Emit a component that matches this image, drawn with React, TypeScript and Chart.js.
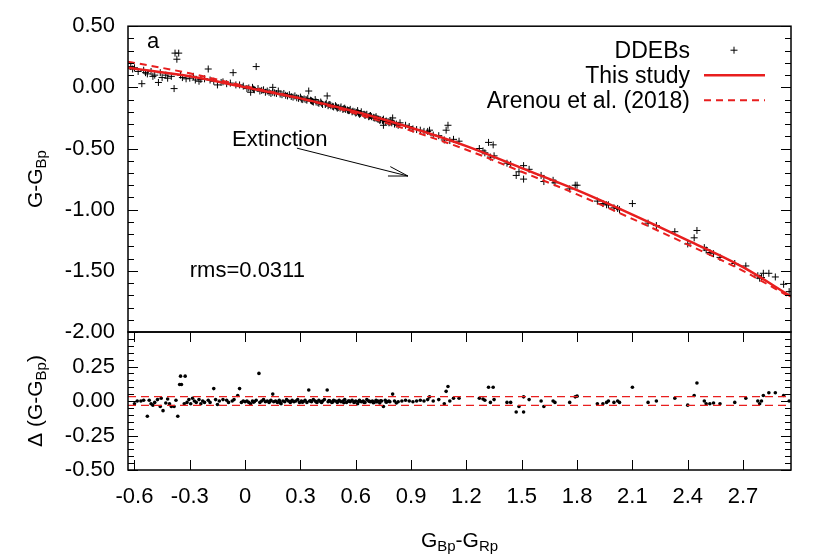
import React, { useEffect, useRef } from 'react';
import { Chart, registerables } from 'chart.js';

Chart.register(...registerables);

// ---------- data ----------
const X_MIN = -0.635;
const X_MAX = 2.96;
const xTickValues = [-0.6, -0.3, 0, 0.3, 0.6, 0.9, 1.2, 1.5, 1.8, 2.1, 2.4, 2.7];
const topYTicks = [0.5, 0, -0.5, -1.0, -1.5, -2.0];
const bottomYTicks = [0.25, 0, -0.25, -0.5];

// fitted relations
const fitX = [-0.635, -0.3, 0, 0.3, 0.6, 0.9, 1.2, 1.5, 1.8, 2.1, 2.4, 2.7, 2.96];
const thisStudyY = [0.16, 0.09, 0.0, -0.09, -0.2, -0.33, -0.48, -0.66, -0.84, -1.04, -1.25, -1.47, -1.71];
const arenouY = [0.21, 0.115, 0.01, -0.09, -0.215, -0.355, -0.51, -0.69, -0.875, -1.075, -1.285, -1.5, -1.72];

const rmsValue = 0.0311;

// DDEBs: G_Bp - G_Rp  vs  G - G_Bp
const ddebX = [
  -0.62, -0.61, -0.6, -0.58, -0.56, -0.55, -0.54, -0.53, -0.51, -0.5, -0.49, -0.47, -0.46, -0.45, -0.43, -0.42,
  -0.4, -0.385, -0.38, -0.37, -0.36, -0.35, -0.34, -0.32, -0.3, -0.28, -0.27, -0.25, -0.24, -0.22, -0.2, -0.19,
  -0.17, -0.15, -0.13, -0.12, -0.1, -0.08, -0.065, -0.05, -0.03, -0.01,
  0.01, 0.03, 0.04, 0.05, 0.06, 0.07, 0.08, 0.1, 0.11, 0.12, 0.14, 0.15, 0.15, 0.17, 0.18, 0.2, 0.21, 0.23, 0.24,
  0.26, 0.27, 0.29, 0.3, 0.31, 0.33, 0.34, 0.345, 0.36, 0.37, 0.38, 0.4, 0.41, 0.42, 0.44, 0.445, 0.45, 0.46, 0.48,
  0.49, 0.5, 0.52, 0.53, 0.54, 0.56, 0.57, 0.58, 0.6, 0.61, 0.62, 0.63, 0.65, 0.66, 0.67, 0.68, 0.7, 0.71, 0.72,
  0.73, 0.75, 0.75, 0.76, 0.78, 0.79, 0.8, 0.81, 0.83, 0.84,
  0.02, 0.045, 0.09, 0.13, 0.16, 0.19, 0.22, 0.25, 0.28,
  0.305, 0.32, 0.335, 0.355, 0.365, 0.385, 0.395, 0.415, 0.435, 0.455, 0.465, 0.475, 0.495, 0.505, 0.515, 0.535,
  0.545, 0.555, 0.565, 0.585, 0.595, 0.605, 0.615, 0.625, 0.645, 0.655, 0.675, 0.685, 0.695, 0.705, 0.715, 0.725,
  0.735, 0.745, 0.765, 0.775, 0.785, 0.795, 0.82,
  0.87, 0.89, 0.91, 0.93, 0.95, 0.97, 0.99, 1.0, 1.02, 1.05, 1.08, 1.09, 1.1, 1.11, 1.13, 1.16, 1.27, 1.29, 1.3,
  1.32, 1.345, 1.33, 1.35, 1.42, 1.44, 1.47, 1.485, 1.51, 1.51, 1.54, 1.605, 1.62, 1.67, 1.68, 1.76, 1.79, 1.8,
  1.91, 1.94, 1.96, 1.97, 2.0, 2.02, 2.03, 2.1, 2.185, 2.23, 2.33, 2.4, 2.435, 2.45, 2.49, 2.5, 2.52, 2.54, 2.575,
  2.655, 2.715, 2.78, 2.79, 2.8, 2.81, 2.84, 2.875, 2.92, 2.95,
];
const ddebY = [
  0.17, 0.15, 0.16, 0.13, 0.03, 0.14, 0.12, 0.11, 0.13, 0.09, 0.1, 0.04, 0.12, 0.08, 0.1, 0.075,
  0.09, -0.01, 0.28, 0.23, 0.28, 0.1, 0.08, 0.07, 0.075, 0.09, 0.06, 0.05, 0.065, 0.07, 0.15, 0.06,
  0.05, 0.02, 0.04, 0.045, 0.03, 0.035, 0.12, 0.02, 0.02, 0.01,
  -0.01, -0.04, 0.0, -0.02, 0.17, -0.01, -0.03, -0.02, -0.04, -0.03, -0.05, -0.04, 0.0, -0.05, -0.03, -0.06, -0.05, -0.07, -0.06,
  -0.08, -0.07, -0.09, -0.08, -0.1, -0.1, -0.09, -0.03, -0.11, -0.12, -0.1, -0.13, -0.12, -0.14, -0.13, -0.07, -0.15, -0.14, -0.16,
  -0.15, -0.17, -0.16, -0.18, -0.17, -0.19, -0.18, -0.2, -0.21, -0.19, -0.22, -0.2, -0.23, -0.22, -0.24, -0.23, -0.25, -0.24, -0.26,
  -0.27, -0.26, -0.31, -0.28, -0.29, -0.27, -0.25, -0.3, -0.31, -0.29,
  -0.005, -0.015, -0.025, -0.04, -0.045, -0.055, -0.065, -0.075, -0.085,
  -0.095, -0.095, -0.105, -0.105, -0.115, -0.12, -0.125, -0.13, -0.14, -0.14, -0.15, -0.155, -0.16, -0.165, -0.17, -0.175,
  -0.18, -0.185, -0.19, -0.195, -0.2, -0.205, -0.21, -0.215, -0.22, -0.225, -0.235, -0.24, -0.245, -0.25, -0.255, -0.26,
  -0.265, -0.27, -0.275, -0.28, -0.285, -0.29, -0.3,
  -0.31, -0.32, -0.34, -0.345, -0.35, -0.36, -0.36, -0.35, -0.39, -0.395, -0.43, -0.35, -0.31, -0.435, -0.425, -0.44, -0.5, -0.52, -0.535,
  -0.45, -0.47, -0.57, -0.56, -0.62, -0.63, -0.72, -0.69, -0.75, -0.64, -0.67, -0.72, -0.77, -0.76, -0.78, -0.83, -0.8, -0.8,
  -0.93, -0.95, -0.96, -0.96, -0.985, -0.99, -1.0, -0.95, -1.11, -1.13, -1.18, -1.28, -1.23, -1.17, -1.31, -1.33, -1.35, -1.36, -1.39,
  -1.44, -1.46, -1.54, -1.56, -1.555, -1.52, -1.52, -1.55, -1.61, -1.67,
];

// residuals: G_Bp - G_Rp  vs  Δ(G - G_Bp)
const resX = [
  -0.6, -0.585, -0.565, -0.55, -0.53, -0.52, -0.51, -0.5, -0.49, -0.475, -0.46, -0.455, -0.445, -0.43, -0.42, -0.41,
  -0.4, -0.385, -0.375, -0.365, -0.355, -0.345, -0.35, -0.325, -0.33, -0.315, -0.305, -0.295, -0.285, -0.275, -0.265,
  -0.25, -0.24, -0.23, -0.22, -0.2, -0.19, -0.17, -0.16, -0.15, -0.14, -0.12, -0.1, -0.09, -0.07, -0.06, -0.04, -0.03,
  -0.02, -0.01,
  0.0, 0.01, 0.02, 0.03, 0.04, 0.05, 0.06, 0.075, 0.08, 0.09, 0.1, 0.11, 0.12, 0.13, 0.14, 0.15, 0.155, 0.165, 0.175,
  0.185, 0.195, 0.205, 0.215, 0.225, 0.235, 0.245, 0.255, 0.265, 0.275, 0.285, 0.295, 0.305, 0.315, 0.325, 0.335,
  0.345, 0.35, 0.36, 0.37, 0.38, 0.39, 0.4, 0.41, 0.42, 0.43, 0.445, 0.45, 0.46, 0.47, 0.48, 0.49, 0.5, 0.51, 0.52,
  0.53, 0.54, 0.55, 0.56, 0.57, 0.58, 0.59, 0.6, 0.61, 0.62, 0.63, 0.64, 0.65, 0.66, 0.67, 0.68, 0.69, 0.7, 0.71,
  0.72, 0.73, 0.74, 0.75, 0.76, 0.77, 0.78, 0.8, 0.81, 0.83, 0.85,
  0.045, 0.135, 0.19, 0.25, 0.31, 0.355, 0.385, 0.415, 0.455, 0.475, 0.505, 0.535, 0.565, 0.595, 0.615, 0.645,
  0.675, 0.695, 0.715, 0.735, 0.765, 0.785, 0.82,
  0.87, 0.89, 0.91, 0.93, 0.95, 0.97, 0.99, 1.0, 1.02, 1.05, 1.08, 1.09, 1.1, 1.11, 1.13, 1.16, 1.27, 1.29, 1.3,
  1.32, 1.345, 1.33, 1.35, 1.42, 1.44, 1.47, 1.485, 1.51, 1.51, 1.54, 1.605, 1.62, 1.67, 1.68, 1.76, 1.79, 1.8,
  1.91, 1.94, 1.96, 1.97, 2.0, 2.02, 2.03, 2.1, 2.185, 2.23, 2.33, 2.4, 2.435, 2.45, 2.49, 2.5, 2.52, 2.54, 2.575,
  2.655, 2.715, 2.78, 2.79, 2.8, 2.81, 2.84, 2.875, 2.92, 2.95,
];
const resY = [
  -0.02, 0.0, 0.0, 0.005, -0.11, 0.005, -0.02, -0.03, -0.01, 0.01, -0.04, 0.02, -0.07, -0.015, 0.015, -0.02,
  -0.04, -0.04, 0.005, -0.11, 0.12, 0.12, 0.18, 0.18, -0.02, -0.01, 0.01, -0.02, 0.02, 0.0, -0.01,
  0.01, -0.02, 0.0, -0.01, 0.005, -0.01, 0.09, 0.01, -0.025, 0.0, 0.01, 0.005, -0.01, 0.0, 0.01, 0.04, 0.09,
  -0.01, 0.0,
  -0.005, 0.0, -0.01, -0.02, 0.0, -0.005, 0.005, 0.2, -0.01, 0.0, 0.01, -0.005, 0.0, -0.01, 0.005, 0.05, -0.005, 0.0, -0.01,
  0.005, -0.02, 0.0, -0.005, 0.01, 0.0, -0.01, 0.005, -0.005, 0.0, 0.01, -0.01, 0.0, -0.005, 0.005, -0.01,
  0.08, 0.0, -0.005, 0.01, 0.0, -0.01, 0.005, -0.005, 0.0, 0.01, 0.08, -0.005, 0.0, -0.01, 0.005, 0.0, -0.01, 0.005, -0.005,
  0.0, 0.01, -0.01, 0.0, -0.005, 0.005, -0.01, 0.0, -0.02, 0.005, -0.005, 0.0, -0.01, 0.01, 0.0, -0.005, 0.0, -0.01, 0.005,
  0.0, -0.015, 0.0, -0.04, 0.005, -0.005, 0.0, 0.05, 0.0, -0.005, 0.0,
  -0.008, -0.003, -0.012, -0.004, -0.009, 0.002, -0.006, -0.011, 0.003, -0.007, -0.002, -0.013, 0.0, -0.008, -0.004, -0.01,
  -0.003, -0.012, -0.006, 0.002, -0.009, -0.005, -0.015,
  0.005, 0.0, -0.005, 0.0, 0.005, 0.0, 0.01, 0.03, 0.0, 0.01, -0.02, 0.07, 0.105, 0.0, 0.02, 0.02, 0.02, 0.015, 0.005,
  0.1, 0.1, -0.01, 0.01, -0.01, -0.01, -0.08, -0.04, -0.08, 0.03, 0.01, 0.0, -0.04, 0.0, -0.01, -0.01, 0.03, 0.035,
  -0.02, -0.02, -0.01, 0.0, -0.01, 0.0, -0.01, 0.1, -0.01, 0.0, 0.02, -0.03, 0.04, 0.13, 0.0, -0.02, -0.02, -0.015, -0.02,
  -0.01, 0.02, 0.0, -0.02, 0.0, 0.04, 0.06, 0.06, 0.04, 0.0,
];

// ---------- styles ----------
const FONT = 'Liberation Sans';
const RED = 'rgb(232,30,30)';
const PLOT_LEFT = 128;
const PLOT_RIGHT = 791;
const TOP_TOP = 26;
const MID = 332;
const BOT_BOTTOM = 470;
const W = 830;
const H = 554;

function drawRich(ctx, parts, size, subSize, subShift) {
  const widths = parts.map((p) => {
    ctx.font = `${p.sub ? subSize : size}px "${FONT}"`;
    return ctx.measureText(p.t).width;
  });
  const total = widths.reduce((a, b) => a + b, 0);
  let x = -total / 2;
  parts.forEach((p, i) => {
    ctx.font = `${p.sub ? subSize : size}px "${FONT}"`;
    ctx.fillText(p.t, x, p.sub ? subShift : 0);
    x += widths[i];
  });
}

function framePlugin(cfg) {
  return {
    id: 'frame' + cfg.name,
    afterDraw(chart) {
      const { ctx, chartArea: a, scales } = chart;
      ctx.save();
      ctx.strokeStyle = '#000';
      ctx.lineWidth = 1;
      const ys = scales.y;
      const tick = (x1, y1, x2, y2) => {
        ctx.beginPath();
        ctx.moveTo(x1, y1);
        ctx.lineTo(x2, y2);
        ctx.stroke();
      };
      cfg.yMinor.forEach((v) => {
        const p = Math.round(ys.getPixelForValue(v)) + 0.5;
        tick(a.left, p, a.left + 6, p);
        tick(a.right - 6, p, a.right, p);
      });
      cfg.yMajor.forEach((v) => {
        const p = Math.round(ys.getPixelForValue(v)) + 0.5;
        tick(a.left, p, a.left + 10, p);
        tick(a.right - 10, p, a.right, p);
      });
      if (cfg.xTicks) {
        const xs = scales.x;
        cfg.xTicks.forEach((v) => {
          const p = Math.round(xs.getPixelForValue(v)) + 0.5;
          tick(p, a.bottom, p, a.bottom - 10);
          tick(p, a.top, p, a.top + 10);
        });
      }
      ctx.lineWidth = 1.5;
      ctx.strokeRect(a.left, a.top, a.right - a.left, a.bottom - a.top);
      if (cfg.extra) cfg.extra(chart, ctx);
      ctx.restore();
    },
  };
}

function topExtras(chart, ctx) {
  const xs = chart.scales.x;
  const ys = chart.scales.y;
  const a = chart.chartArea;
  ctx.fillStyle = '#000';
  ctx.strokeStyle = '#000';
  ctx.textBaseline = 'alphabetic';
  ctx.font = `22px "${FONT}"`;
  ctx.textAlign = 'left';
  ctx.fillText('a', xs.getPixelForValue(-0.532), ys.getPixelForValue(0.32));
  ctx.fillText('Extinction', xs.getPixelForValue(-0.071), ys.getPixelForValue(-0.48));
  ctx.fillText('rms=0.0311', xs.getPixelForValue(-0.3), ys.getPixelForValue(-1.55));

  // arrow
  const x1 = xs.getPixelForValue(0.281), y1 = ys.getPixelForValue(-0.497);
  const x2 = xs.getPixelForValue(0.883), y2 = ys.getPixelForValue(-0.725);
  ctx.lineWidth = 1;
  ctx.beginPath();
  ctx.moveTo(x1, y1);
  ctx.lineTo(x2, y2);
  const ang = Math.atan2(y2 - y1, x2 - x1);
  const hl = 20, ha = (14 * Math.PI) / 180;
  ctx.moveTo(x2 - hl * Math.cos(ang - ha), y2 - hl * Math.sin(ang - ha));
  ctx.lineTo(x2, y2);
  ctx.lineTo(x2 - hl * Math.cos(ang + ha), y2 - hl * Math.sin(ang + ha));
  ctx.stroke();

  // legend
  const tx = a.right - 101;
  const rows = [
    { label: 'DDEBs', y: a.top + 24 },
    { label: 'This study', y: a.top + 49 },
    { label: 'Arenou et al. (2018)', y: a.top + 74 },
  ];
  ctx.textAlign = 'right';
  ctx.font = `23px "${FONT}"`;
  rows.forEach((r) => ctx.fillText(r.label, tx, r.y + 8));
  const cx = a.right - 57, cy = rows[0].y;
  ctx.lineWidth = 1;
  ctx.beginPath();
  ctx.moveTo(cx - 3.5, cy); ctx.lineTo(cx + 3.5, cy);
  ctx.moveTo(cx, cy - 3.5); ctx.lineTo(cx, cy + 3.5);
  ctx.stroke();
  ctx.strokeStyle = RED;
  ctx.lineWidth = 2.5;
  ctx.beginPath();
  ctx.moveTo(a.right - 87, rows[1].y);
  ctx.lineTo(a.right - 26, rows[1].y);
  ctx.stroke();
  ctx.lineWidth = 2;
  ctx.setLineDash([7, 5]);
  ctx.beginPath();
  ctx.moveTo(a.right - 87, rows[2].y);
  ctx.lineTo(a.right - 26, rows[2].y);
  ctx.stroke();
  ctx.setLineDash([]);

  // y title
  ctx.fillStyle = '#000';
  ctx.textAlign = 'left';
  ctx.save();
  ctx.translate(42, (a.top + a.bottom) / 2);
  ctx.rotate(-Math.PI / 2);
  drawRich(ctx, [{ t: 'G-G' }, { t: 'Bp', sub: true }], 21, 15, 4);
  ctx.restore();
}

function bottomExtras(chart, ctx) {
  const a = chart.chartArea;
  ctx.fillStyle = '#000';
  ctx.textAlign = 'left';
  ctx.textBaseline = 'alphabetic';
  ctx.save();
  ctx.translate(42, (a.top + a.bottom) / 2);
  ctx.rotate(-Math.PI / 2);
  drawRich(ctx, [{ t: 'Δ (G-G' }, { t: 'Bp', sub: true }, { t: ')' }], 21, 15, 4);
  ctx.restore();
  ctx.save();
  ctx.translate((a.left + a.right) / 2, 547);
  drawRich(ctx, [{ t: 'G' }, { t: 'Bp', sub: true }, { t: '-G' }, { t: 'Rp', sub: true }], 21, 15, 4);
  ctx.restore();
}

function minorTicks(from, to, step) {
  const out = [];
  const n = Math.round((to - from) / step);
  for (let i = 0; i <= n; i++) out.push(Math.round((from + i * step) * 1000) / 1000);
  return out;
}

const fmtX = (v) => String(Math.round(Number(v) * 10) / 10);

export default function App() {
  const topRef = useRef(null);
  const botRef = useRef(null);

  useEffect(() => {
    Chart.defaults.font.family = FONT;
    const topChart = new Chart(topRef.current, {
      type: 'scatter',
      data: {
        datasets: [
          {
            label: 'Arenou et al. (2018)',
            data: fitX.map((x, i) => ({ x, y: arenouY[i] })),
            showLine: true,
            borderColor: RED,
            borderWidth: 2,
            borderDash: [7, 5],
            pointRadius: 0,
            cubicInterpolationMode: 'monotone',
            order: 0,
          },
          {
            label: 'This study',
            data: fitX.map((x, i) => ({ x, y: thisStudyY[i] })),
            showLine: true,
            borderColor: RED,
            borderWidth: 2.5,
            pointRadius: 0,
            cubicInterpolationMode: 'monotone',
            order: 1,
          },
          {
            label: 'DDEBs',
            data: ddebX.map((x, i) => ({ x, y: ddebY[i] })),
            pointStyle: 'cross',
            pointRadius: 3.5,
            borderColor: '#000',
            backgroundColor: '#000',
            borderWidth: 1,
            order: 2,
          },
        ],
      },
      options: {
        responsive: false,
        animation: false,
        events: [],
        layout: { padding: { left: 0, top: TOP_TOP, right: W - PLOT_RIGHT, bottom: H - MID } },
        plugins: { legend: { display: false }, tooltip: { enabled: false } },
        scales: {
          x: { type: 'linear', min: X_MIN, max: X_MAX, display: false },
          y: {
            type: 'linear',
            min: -2,
            max: 0.5,
            afterBuildTicks: (s) => {
              s.ticks = topYTicks.map((v) => ({ value: v }));
            },
            afterFit: (s) => {
              s.width = PLOT_LEFT;
            },
            grid: { display: false, drawTicks: false },
            border: { display: false },
            ticks: {
              padding: 13,
              color: '#000',
              font: { family: FONT, size: 22 },
              callback: (v) => Number(v).toFixed(2),
            },
          },
        },
      },
      plugins: [
        framePlugin({
          name: 'top',
          yMajor: topYTicks,
          yMinor: minorTicks(-2, 0.5, 0.1),
          xTicks: null,
          extra: topExtras,
        }),
      ],
    });

    const botChart = new Chart(botRef.current, {
      type: 'scatter',
      data: {
        datasets: [
          {
            data: [{ x: X_MIN, y: rmsValue }, { x: X_MAX, y: rmsValue }],
            showLine: true,
            borderColor: RED,
            borderWidth: 1.2,
            borderDash: [8, 5],
            pointRadius: 0,
            order: 0,
          },
          {
            data: [{ x: X_MIN, y: -rmsValue }, { x: X_MAX, y: -rmsValue }],
            showLine: true,
            borderColor: RED,
            borderWidth: 1.2,
            borderDash: [8, 5],
            pointRadius: 0,
            order: 1,
          },
          {
            data: resX.map((x, i) => ({ x, y: resY[i] })),
            pointStyle: 'circle',
            pointRadius: 1.8,
            borderWidth: 0,
            backgroundColor: '#000',
            borderColor: '#000',
            order: 2,
          },
        ],
      },
      options: {
        responsive: false,
        animation: false,
        events: [],
        layout: { padding: { left: 0, top: MID, right: W - PLOT_RIGHT, bottom: H - BOT_BOTTOM - 40 } },
        plugins: { legend: { display: false }, tooltip: { enabled: false } },
        scales: {
          x: {
            type: 'linear',
            min: X_MIN,
            max: X_MAX,
            afterBuildTicks: (s) => {
              s.ticks = xTickValues.map((v) => ({ value: v }));
            },
            afterFit: (s) => {
              s.height = 40;
            },
            grid: { display: false, drawTicks: false },
            border: { display: false },
            ticks: {
              padding: 14,
              autoSkip: false,
              maxRotation: 0,
              color: '#000',
              font: { family: FONT, size: 22 },
              callback: (v) => fmtX(v),
            },
          },
          y: {
            type: 'linear',
            min: -0.5,
            max: 0.5,
            afterBuildTicks: (s) => {
              s.ticks = bottomYTicks.map((v) => ({ value: v }));
            },
            afterFit: (s) => {
              s.width = PLOT_LEFT;
            },
            grid: { display: false, drawTicks: false },
            border: { display: false },
            ticks: {
              padding: 13,
              color: '#000',
              font: { family: FONT, size: 22 },
              callback: (v) => Number(v).toFixed(2),
            },
          },
        },
      },
      plugins: [
        framePlugin({
          name: 'bot',
          yMajor: [0.5, 0.25, 0, -0.25, -0.5],
          yMinor: minorTicks(-0.5, 0.5, 0.05),
          xTicks: xTickValues,
          extra: bottomExtras,
        }),
      ],
    });

    return () => {
      topChart.destroy();
      botChart.destroy();
    };
  }, []);

  return (
    <div style={{ position: 'fixed', left: 0, top: 0, width: W, height: H, background: '#fff' }}>
      <canvas ref={topRef} width={W} height={H} style={{ position: 'absolute', left: 0, top: 0 }} />
      <canvas ref={botRef} width={W} height={H} style={{ position: 'absolute', left: 0, top: 0 }} />
    </div>
  );
}
